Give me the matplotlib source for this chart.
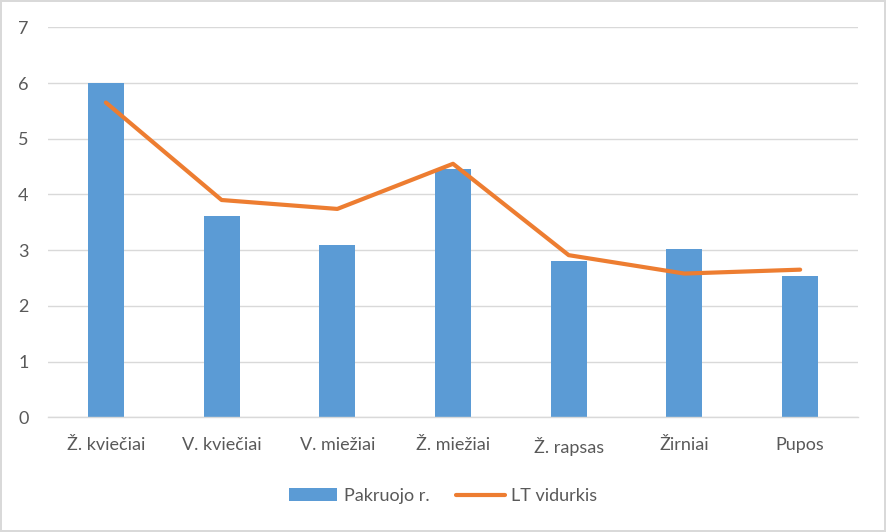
import numpy as np
import matplotlib.pyplot as plt
from matplotlib.patches import Patch
from matplotlib.lines import Line2D

# Chart data
categories = ["Ž. kviečiai", "V. kviečiai", "V. miežiai", "Ž. miežiai", "Ž. rapsas", "Žirniai", "Pupos"]
pakruojo = [6.0, 3.61, 3.09, 4.45, 2.81, 3.02, 2.54]
lt_vidurkis = [5.65, 3.90, 3.74, 4.55, 2.91, 2.58, 2.65]

plt.rcParams["font.family"] = ["Lato", "DejaVu Sans"]

fig = plt.figure(figsize=(8.86, 5.32), dpi=100)
fig.patch.set_edgecolor("#d9d9d9")
fig.patch.set_linewidth(1.5)
ax = fig.add_axes([0.0542, 0.2156, 0.9142, 0.7331])

x = np.arange(len(categories))
ax.bar(x, pakruojo, width=0.31, color="#5b9bd5", zorder=2)
ax.plot(x, lt_vidurkis, color="#ed7d31", linewidth=3, solid_capstyle="round", zorder=3)

ax.set_xlim(-0.5, len(categories) - 0.5)
ax.set_ylim(0, 7)
ax.set_yticks(range(0, 8))
ax.set_xticks(x)
ax.set_xticklabels(categories)

ax.grid(axis="y", color="#d9d9d9", linewidth=1, zorder=0)
for s in ["top", "right", "left"]:
    ax.spines[s].set_visible(False)
ax.spines["bottom"].set_color("#d9d9d9")
ax.spines["bottom"].set_linewidth(1)
ax.tick_params(axis="both", length=0, colors="#595959", labelsize=13)
ax.tick_params(axis="y", pad=14)
ax.tick_params(axis="x", pad=14)

handles = [Patch(facecolor="#5b9bd5"),
           Line2D([0], [0], color="#ed7d31", linewidth=3, solid_capstyle="round")]
fig.legend(handles, ["Pakruojo r.", "LT vidurkis"], loc="center",
           bbox_to_anchor=(0.5, 0.068), ncol=2, frameon=False,
           fontsize=13, labelcolor="#595959", handlelength=2.7, handleheight=0.7,
           handletextpad=0.35, columnspacing=1.5)

fig.savefig("out.png", dpi=100, edgecolor=fig.get_edgecolor())
